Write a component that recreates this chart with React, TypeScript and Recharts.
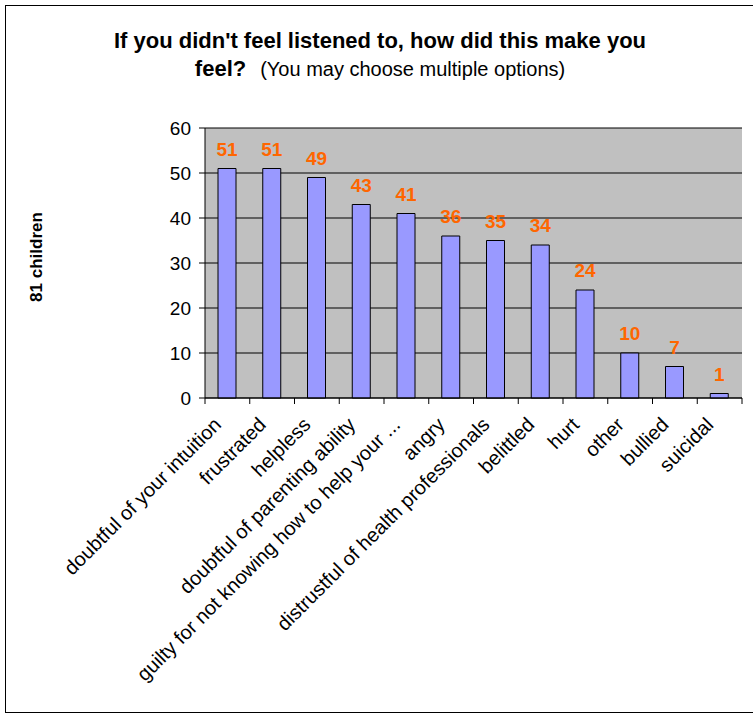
import { Bar, BarChart, CartesianGrid, LabelList, XAxis, YAxis } from "recharts";

const categories = [
    "doubtful of your intuition",
    "frustrated",
    "helpless",
    "doubtful of parenting ability",
    "guilty for not knowing how to help your ...",
    "angry",
    "distrustful of health professionals",
    "belittled",
    "hurt",
    "other",
    "bullied",
    "suicidal",
];
const counts = [51, 51, 49, 43, 41, 36, 35, 34, 24, 10, 7, 1];
const yTicks = [0, 10, 20, 30, 40, 50, 60];

const data = categories.map((name, i) => ({ name, count: counts[i] }));

const FONT = '"Liberation Sans", Arial, sans-serif';
const W = 753;
const H = 714;
const PLOT_LEFT = 205;
const PLOT_RIGHT = 11;

function CategoryTick(props: any) {
    const { x, y, payload, index } = props;
    const half = payload?.offset ?? (W - PLOT_LEFT - PLOT_RIGHT) / categories.length / 2;
    const last = index === categories.length - 1;
    const tx = x - 5;
    const ty = y + 28;
    return (
        <g>
            <line x1={x - half} y1={y} x2={x - half} y2={y + 6} stroke="#000" />
            {last && <line x1={x + half} y1={y} x2={x + half} y2={y + 6} stroke="#000" />}
            <text
                x={tx}
                y={ty}
                textAnchor="end"
                transform={`rotate(-45, ${tx}, ${ty})`}
                fontSize={20}
                fontFamily={FONT}
                fill="#000">
                {payload.value}
            </text>
        </g>
    );
}

export default function App() {
    return (
        <div style={{ position: "absolute", left: 0, top: 0, width: W, height: H, overflow: "hidden", background: "#fff", fontFamily: FONT }}>
            <div style={{ position: "absolute", left: 5, top: 5, width: 820, height: 706, border: "1px solid #000" }} />

            <div style={{ position: "absolute", left: 0, width: 760, top: 27, textAlign: "center", lineHeight: "28px", color: "#000" }}>
                <div style={{ fontSize: 22, fontWeight: "bold" }}>If you didn't feel listened to, how did this make you</div>
                <div>
                    <span style={{ fontSize: 22, fontWeight: "bold" }}>feel?</span>
                    <span style={{ fontSize: 20, marginLeft: 14 }}>(You may choose multiple options)</span>
                </div>
            </div>

            <div style={{ position: "absolute", left: 37, top: 257, transform: "translate(-50%, -50%) rotate(-90deg)", whiteSpace: "nowrap", fontSize: 17, fontWeight: "bold" }}>
                81 children
            </div>

            <div style={{ position: "absolute", left: 0, top: 0 }}>
                <BarChart
                    width={W}
                    height={H}
                    data={data}
                    margin={{ top: 128, right: PLOT_RIGHT, left: 0, bottom: 0 }}>
                    <CartesianGrid
                        vertical={false}
                        fill="#c0c0c0"
                        fillOpacity={1}
                        stroke="#000"
                        strokeOpacity={1} />
                    <XAxis
                        dataKey="name"
                        interval={0}
                        height={316}
                        axisLine={{ stroke: "#000" }}
                        tickLine={false}
                        tickSize={0}
                        tickMargin={0}
                        tick={<CategoryTick />} />
                    <YAxis
                        width={PLOT_LEFT}
                        domain={[0, 60]}
                        ticks={yTicks}
                        interval={0}
                        axisLine={{ stroke: "#000" }}
                        tickLine={{ stroke: "#000" }}
                        tickSize={6}
                        tickMargin={8}
                        tick={{ fill: "#000", fontSize: 19, fontFamily: FONT }} />
                    <Bar
                        dataKey="count"
                        fill="#9999ff"
                        stroke="#000"
                        strokeWidth={1}
                        barSize={18}
                        isAnimationActive={false}>
                        <LabelList
                            dataKey="count"
                            position="top"
                            offset={13}
                            fill="#ff6600"
                            fontSize={19}
                            fontWeight="bold"
                            fontFamily={FONT} />
                    </Bar>
                </BarChart>
            </div>
        </div>
    );
}
